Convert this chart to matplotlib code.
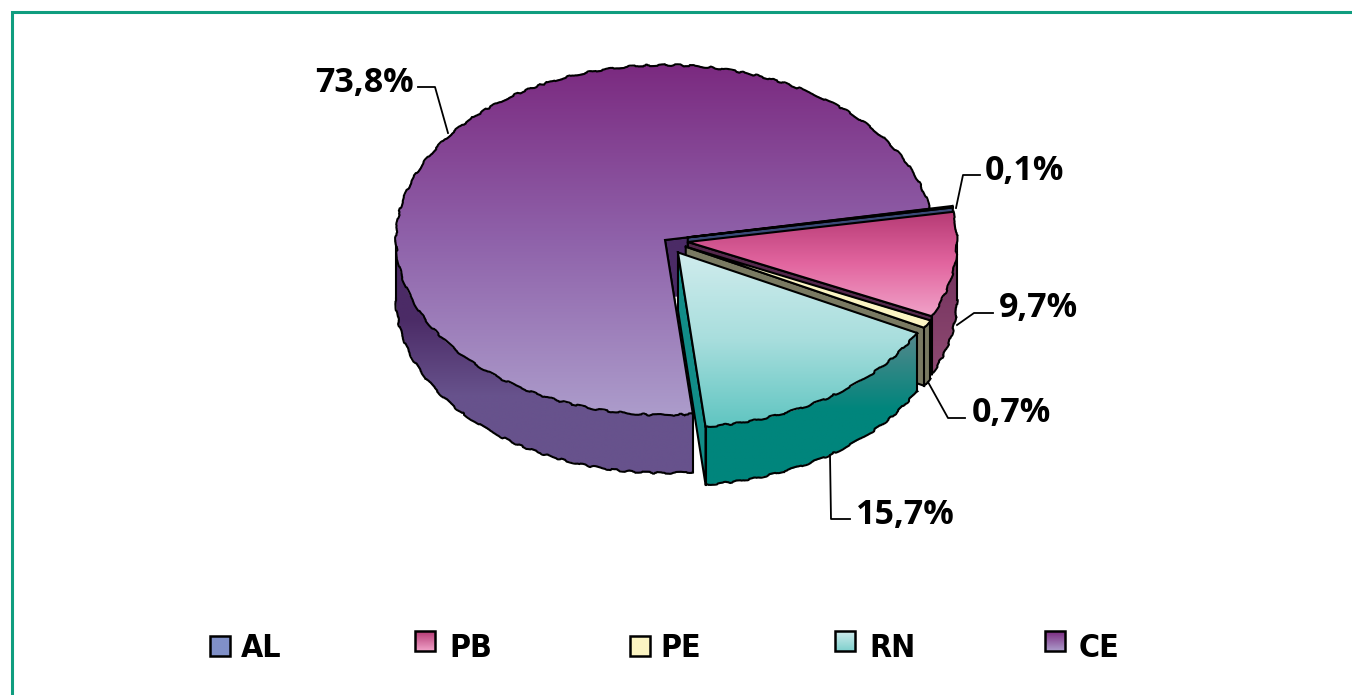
import numpy as np
import matplotlib
matplotlib.use("Agg")
import matplotlib.pyplot as plt
from matplotlib.colors import LinearSegmentedColormap
from matplotlib.patches import Polygon, Rectangle

W, H = 1352, 695

states = ["AL", "PB", "PE", "RN", "CE"]
shares = [0.1, 9.7, 0.7, 15.7, 73.8]
share_labels = ["0,1%", "9,7%", "0,7%", "15,7%", "73,8%"]
explode = [0.086, 0.086, 0.086, 0.086, 0.0]

top_colors = {
    "AL": ["#4d68a5", "#4d68a5"],
    "PB": ["#b53a74", "#e2659f", "#f0a2c8"],
    "PE": ["#fcf5c3", "#fcf5c3"],
    "RN": ["#d0eced", "#a8dedd", "#5fc5c1"],
    "CE": ["#7b2a80", "#8f62aa", "#ac9ccb"],
}
wall_colors = {
    "AL": ["#3a4a78", "#3a4a78"],
    "PB": ["#6e2e5a", "#8f4a72"],
    "PE": ["#7a7a62", "#7a7a62"],
    "RN": ["#55888c", "#00857c", "#00857c"],
    "CE": ["#4b2b66", "#4b2b66", "#67528c", "#67528c"],
}
cut_colors = {"AL": "#3a4a78", "PB": "#55284c", "PE": "#7a7a62", "RN": "#128d88", "CE": "#4b2b66"}
key_colors = {
    "AL": ["#8090c8", "#8090c8"],
    "PB": ["#b53a74", "#f0a2c8"],
    "PE": ["#fcf5c3", "#fcf5c3"],
    "RN": ["#d0eced", "#7fd0cd"],
    "CE": ["#7b2a80", "#ac9ccb"],
}

# pixel positions of the pie on the page
cx, cy, rx, ry = 665, 240, 269, 175
depth = 58 / ry
xlim = (-1.4, 1.4)
ylim = (-1.5, 1.2)


def gradient(ax, colors, extent, clip, z):
    cmap = LinearSegmentedColormap.from_list("g", colors)
    im = ax.imshow(np.linspace(0, 1, 256).reshape(-1, 1), cmap=cmap, extent=extent,
                   origin="upper", aspect="auto", zorder=z, interpolation="bilinear")
    im.set_clip_path(clip)


def fill_shape(ax, pts, colors, z):
    pts = np.array(pts)
    clip = Polygon(pts, closed=True, fc="none", ec="none", transform=ax.transData)
    ax.add_patch(clip)
    extent = (pts[:, 0].min(), pts[:, 0].max(), pts[:, 1].min(), pts[:, 1].max())
    gradient(ax, colors, extent, clip, z)


def outline(ax, pts, z, rough=False):
    pts = np.array(pts)
    line, = ax.plot(pts[:, 0], pts[:, 1], color="black", lw=1.5, zorder=z + 0.1,
                    solid_joinstyle="miter", scalex=False, scaley=False)
    if rough:
        line.set_sketch_params(scale=0.9, length=40, randomness=10)


fig = plt.figure(figsize=(W / 100, H / 100), dpi=100, facecolor="white")
ax = fig.add_axes([(cx + xlim[0] * rx) / W, (H - cy + ylim[0] * ry) / H,
                   (xlim[1] - xlim[0]) * rx / W, (ylim[1] - ylim[0]) * ry / H])

wedges = ax.pie(shares, explode=explode, startangle=10.2, counterclock=False,
                normalize=True, radius=1.0)[0]

# back slice first, then the exploded ones from the top round to the front
order = [4, 0, 1, 2, 3]
z = 2
for i in order:
    w = wedges[i]
    name = states[i]
    c = np.array(w.center)
    if name == "CE":
        # inner faces of the gap left by the other slices
        for deg in (w.theta1, w.theta2):
            a = np.radians(deg)
            rim = c + [np.cos(a), np.sin(a)]
            pts = [c, rim, rim - [0, depth], c - [0, depth]]
            fill_shape(ax, pts, [cut_colors[name]] * 2, z)
            outline(ax, pts[:2], z)
            z += 1
    else:
        # flat cut face below the slice edge
        a = np.radians(w.theta1)
        rim = c + [np.cos(a), np.sin(a)]
        pts = [c, rim, rim - [0, depth], c - [0, depth], c]
        fill_shape(ax, pts, [cut_colors[name]] * 2, z)
        outline(ax, pts, z)
        z += 1

    t = np.arange(w.theta1, w.theta2 + 0.25, 0.25)
    t = t[np.sin(np.radians(t)) < 0]
    if len(t) > 1:
        arc = np.column_stack([c[0] + np.cos(np.radians(t)), c[1] + np.sin(np.radians(t))])
        low = arc - [0, depth]
        fill_shape(ax, np.vstack([arc, low[::-1]]), wall_colors[name], z)
        outline(ax, low, z, rough=True)
        outline(ax, [arc[0], low[0]], z)
        outline(ax, [arc[-1], low[-1]], z)
        z += 1

    # top face, outlined by hand so only the rim gets the rough edge
    w.set(facecolor="none", edgecolor="none", zorder=z)
    ang = np.radians(np.arange(w.theta1, w.theta2 + 0.25, 0.25))
    rim_pts = np.column_stack([c[0] + np.cos(ang), c[1] + np.sin(ang)])
    ys = np.r_[c[1], rim_pts[:, 1]]
    gradient(ax, top_colors[name], (c[0] - 1, c[0] + 1, ys.min(), ys.max()), w, z)
    outline(ax, rim_pts, z, rough=True)
    outline(ax, [rim_pts[0], c, rim_pts[-1]], z)
    z += 1

ax.set_aspect("auto")
ax.set_xlim(*xlim)
ax.set_ylim(*ylim)
ax.axis("off")

# page layer in pixels: frame, leader lines, labels and legend
page = fig.add_axes([0, 0, 1, 1], facecolor="none")
page.set_xlim(0, W)
page.set_ylim(H, 0)
page.axis("off")
page.plot([12, 12, W], [H, 12, 12], color="#0f9d7f", lw=2.2, solid_joinstyle="miter")

leaders = [
    ([980, 963, 956], [175, 175, 208]),
    ([993, 974, 957], [313, 313, 325]),
    ([965, 948, 928], [418, 418, 382]),
    ([850, 831, 830], [519, 519, 455]),
    ([418, 435, 448], [87, 87, 133]),
]
label_xy = [(985, 171), (999, 308), (972, 413), (856, 515), (315, 83)]
for (lx, ly), (tx, ty), s in zip(leaders, label_xy, share_labels):
    page.plot(lx, ly, color="black", lw=1.3)
    page.text(tx, ty, s, family="Open Sans", weight="bold", fontsize=24.5,
              color="black", ha="left", va="center")

key_x = [210, 415, 630, 835, 1045]
key_y = [636, 631, 636, 631, 631]
text_x = [241, 449, 660, 869, 1079]
for name, kx, ky, tx in zip(states, key_x, key_y, text_x):
    frame = Rectangle((kx, ky), 20, 20, fc="none", ec="black", lw=1.8, zorder=3)
    page.add_patch(frame)
    cmap = LinearSegmentedColormap.from_list("k", key_colors[name])
    page.imshow(np.linspace(0, 1, 64).reshape(-1, 1), cmap=cmap,
                extent=(kx, kx + 20, ky + 20, ky), aspect="auto", zorder=2)
    page.text(tx, 657, name, family="DejaVu Sans", stretch="condensed", weight="bold",
              fontsize=23, color="black", ha="left", va="baseline")
page.set_xlim(0, W)
page.set_ylim(H, 0)

fig.savefig("out.png", dpi=100)
